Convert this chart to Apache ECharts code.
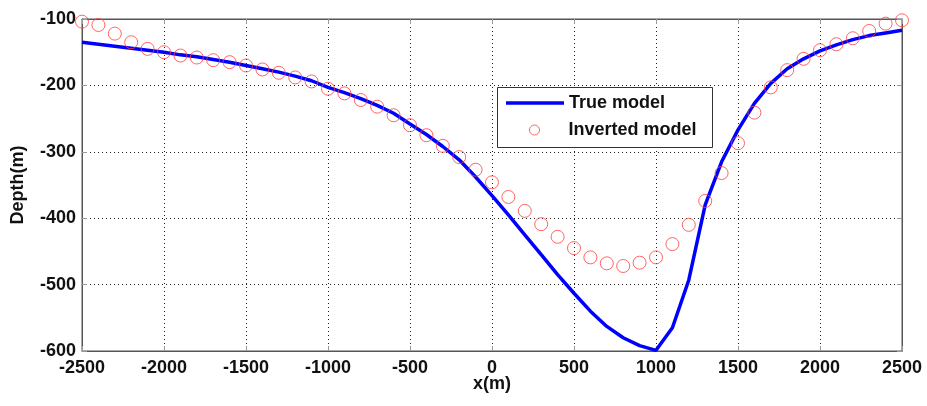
<!DOCTYPE html>
<html><head><meta charset="utf-8">
<script src="https://cdn.jsdelivr.net/npm/echarts@6/dist/echarts.min.js"></script>
<style>html,body{margin:0;padding:0;background:#fff}#c{width:927px;height:406px}</style>
</head><body><div id="c"></div>
<script>
const xPositions = [-2500,-2400,-2300,-2200,-2100,-2000,-1900,-1800,-1700,-1600,-1500,-1400,-1300,-1200,-1100,-1000,-900,-800,-700,-600,-500,-400,-300,-200,-100,0,100,200,300,400,500,600,700,800,900,1000,1100,1200,1300,1400,1500,1600,1700,1800,1900,2000,2100,2200,2300,2400,2500];
const trueDepth = [-135,-138,-141,-144,-147,-150,-154,-157,-161,-165,-170,-175,-180,-186,-193,-203,-211,-220,-230,-242,-258,-274,-292,-312,-338,-366,-395,-425,-455,-485,-513,-540,-563,-580,-592,-599,-565,-493,-380,-315,-267,-227,-197,-175,-160,-148,-139,-131,-125,-121,-117];
const invertedDepth = [-104,-109,-122,-135,-145,-150,-155,-158,-162,-165,-170,-176,-181,-188,-194,-205,-212,-222,-232,-245,-260,-275,-291,-308,-327,-346,-368,-389,-409,-428,-445,-459,-468,-472,-467,-459,-439,-410,-374,-332,-287,-241,-203,-177,-160,-147,-138,-129,-118,-107,-102];
const xTicks = [-2500,-2000,-1500,-1000,-500,0,500,1000,1500,2000,2500];
const yTicks = [-600,-500,-400,-300,-200,-100];
const legendNames = ['True model','Inverted model'];

const font = '"Liberation Sans", Arial, sans-serif';
const txt = {fontFamily:font, fontWeight:'bold', fontSize:18, color:'#111'};
const chart = echarts.init(document.getElementById('c'), null, {renderer:'canvas'});
const splitStyle = {show:true, lineStyle:{color:'#222', type:[1,3], width:1}};
const tickStyle = {show:true, inside:true, length:5, lineStyle:{color:'#999'}};
chart.setOption({
  animation:false,
  backgroundColor:'#fff',
  grid:{left:82, right:25, top:19, bottom:55, show:true, borderColor:'#555', borderWidth:1, backgroundColor:'transparent'},
  graphic:[{type:'rect', left:497, top:87, z:1, shape:{width:215, height:60},
    style:{fill:'#fff', stroke:'#333', lineWidth:1}}],
  legend:[{
    left:506, top:94, padding:0, z:5, itemWidth:58, itemHeight:18,
    textStyle:txt,
    data:[{name:legendNames[0], icon:'path://M0,0 L1,0 L0,0 Z M0,7.25 H58 V10.75 H0 Z M0,18 L1,18 L0,18 Z'}]
  },{
    left:529, top:121, padding:0, z:5, itemWidth:58, itemHeight:10,
    textStyle:txt,
    data:[{name:legendNames[1], icon:'circle', itemStyle:{color:'#fff', borderColor:'#ff4040', borderWidth:1}}]
  }],
  xAxis:[{
    type:'value', min:-2500, max:2500, interval:500,
    name:'x(m)', nameLocation:'middle', nameGap:24, nameMoveOverlap:false,
    nameTextStyle:txt,
    axisLine:{show:true, onZero:false, lineStyle:{color:'#555'}},
    axisTick:tickStyle,
    axisLabel:Object.assign({margin:8, formatter:v=>xTicks.includes(v)?String(v):''}, txt),
    splitLine:splitStyle
  },{
    type:'value', position:'top', min:-2500, max:2500, interval:500,
    axisLine:{show:true, onZero:false, lineStyle:{color:'#555'}},
    axisTick:tickStyle,
    axisLabel:{show:false}, splitLine:{show:false}
  }],
  yAxis:[{
    type:'value', min:-600, max:-100, interval:100,
    name:'Depth(m)', nameLocation:'middle', nameGap:55, nameRotate:90,
    nameTextStyle:txt,
    axisLine:{show:true, onZero:false, lineStyle:{color:'#555'}},
    axisTick:tickStyle,
    axisLabel:Object.assign({margin:6, formatter:v=>yTicks.includes(v)?String(v):''}, txt),
    splitLine:splitStyle
  },{
    type:'value', position:'right', min:-600, max:-100, interval:100,
    axisLine:{show:true, onZero:false, lineStyle:{color:'#555'}},
    axisTick:tickStyle,
    axisLabel:{show:false}, splitLine:{show:false}
  }],
  series:[{
    name:legendNames[0], type:'line', xAxisIndex:0, yAxisIndex:0,
    data:xPositions.map((x,i)=>[x,trueDepth[i]]),
    showSymbol:false, symbol:'none', smooth:false,
    lineStyle:{color:'#0000ff', width:3.5}, itemStyle:{color:'#0000ff'}, z:3
  },{
    name:legendNames[1], type:'scatter', xAxisIndex:0, yAxisIndex:0,
    data:xPositions.map((x,i)=>[x,invertedDepth[i]]),
    symbol:'circle', symbolSize:13,
    itemStyle:{color:'transparent', borderColor:'#ff4040', borderWidth:1}, z:4
  }]
});
</script></body></html>
